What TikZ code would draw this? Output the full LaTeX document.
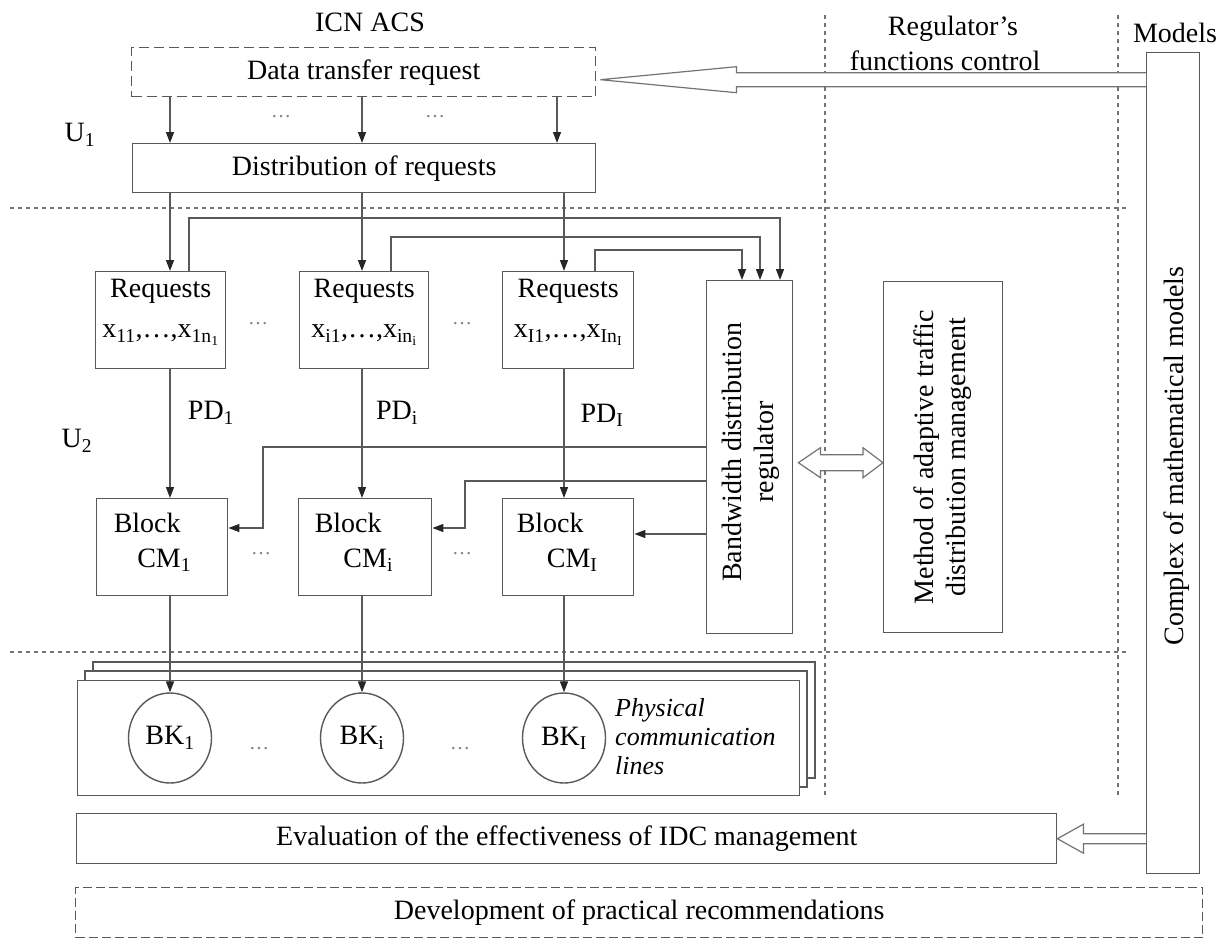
\documentclass[tikz,border=0pt]{standalone}
\usepackage{fontspec}
\setmainfont{Liberation Serif}
\usetikzlibrary{arrows.meta,calc,shapes.geometric}
\begin{document}
\begin{tikzpicture}[x=1pt,y=-1pt,
  ln/.style={draw=black!65,line width=1.4pt},
  box/.style={ln,rectangle,inner sep=0pt,anchor=north west,fill=white},
  sep/.style={draw=black!55,line width=1.4pt,dash pattern=on 4pt off 4pt},
  arr/.style={ln,-{Triangle[length=11pt,width=8pt,color=black!85]}},
  txt/.style={font=\fontsize{28}{32}\selectfont,inner sep=0pt},
  itxt/.style={font=\itshape\fontsize{26}{29}\selectfont,inner sep=0pt},
  dotsn/.style={font=\fontsize{20}{20}\selectfont,text=black!50,inner sep=0pt},
  hollow/.style={draw=black!55,line width=1.2pt,fill=white,line join=miter},
]
\useasboundingbox (0,0) rectangle (1230,942);

% separators
\draw[sep] (10,208) -- (1126,208);
\draw[sep] (10,652) -- (1126,652);
\draw[sep] (825,15) -- (825,795);
\draw[sep] (1118,15) -- (1118,795);

% columns
\coordinate (k1) at (170,0);
\coordinate (k2) at (362,0);
\coordinate (k3) at (564,0);
\coordinate (k0) at (557,0);

% top labels
\node[txt] (icn) at (370,22) {ICN ACS};
\node[txt] (mod) at (1175,33) {Models};

% top boxes
\node[box,txt,dash pattern=on 10pt off 5pt,minimum width=464,minimum height=49] (dtr) at (131,47) {Data transfer request};
\node[box,txt,minimum width=463,minimum height=49] (dist) at (132,143) {Distribution of requests};

% models box
\node[box,minimum width=53,minimum height=821] (models) at (1146,52) {};
\node[txt,rotate=90] (modt) at ($(models.center)+(3,-7)$) {Complex of mathematical models};

% big hollow arrow to data transfer request
\coordinate (ta) at ($(dtr.east)+(4,7.5)$);
\coordinate (tb) at (models.west |- ta);
\draw[hollow] ($(tb)+(0,-7)$) -- ($(ta)+(136,-7)$) -- ++(0,-6) -- (ta) -- ($(ta)+(136,13)$) -- ++(0,-6) -- ($(tb)+(0,7)$);

\node[txt] (reg1) at (953,29) {Regulator's};
\node[txt] (reg2) at (945,61) {functions control};

% arrows DTR -> distribution
\draw[arr] (k1 |- dtr.south) -- (k1 |- dist.north);
\draw[arr] (k2 |- dtr.south) -- (k2 |- dist.north);
\draw[arr] (k0 |- dtr.south) -- (k0 |- dist.north);
\node[dotsn] at (281,117) {…};
\node[dotsn] at (435,117) {…};

\node[txt] (u1) at (80,135) {U\textsubscript{1}};
\node[txt] (u2) at (77,441) {U\textsubscript{2}};

% requests boxes
\node[box,minimum width=130,minimum height=97] (r1) at (95,271) {};
\node[box,minimum width=129,minimum height=97] (r2) at (299,271) {};
\node[box,minimum width=131,minimum height=97] (r3) at (502,271) {};
\node[txt] at ($(r1.north)+(0,20)$) {Requests};
\node[txt] at ($(r2.north)+(0,20)$) {Requests};
\node[txt] at ($(r3.north)+(0,20)$) {Requests};
\node[txt] at ($(r1.north)+(0,64)$) {x\textsubscript{11},…,x\textsubscript{1n\textsubscript{1}}};
\node[txt] at ($(r2.north)+(0,64)$) {x\textsubscript{i1},…,x\textsubscript{in\textsubscript{i}}};
\node[txt] at ($(r3.north)+(0,64)$) {x\textsubscript{I1},…,x\textsubscript{In\textsubscript{I}}};
\node[dotsn] at (258,324) {…};
\node[dotsn] at (462,324) {…};

\draw[arr] (k1 |- dist.south) -- (k1 |- r1.north);
\draw[arr] (k2 |- dist.south) -- (k2 |- r2.north);
\draw[arr] (k3 |- dist.south) -- (k3 |- r3.north);

% regulator and method boxes
\node[box,minimum width=86,minimum height=353] (reg) at (706,280) {};
\node[txt,rotate=90,align=center] at ($(reg.center)+(1,-5)$) {Bandwidth distribution\\regulator};
\node[box,minimum width=119,minimum height=351] (meth) at (883,281) {};
\node[txt,rotate=90,align=center] at ($(meth.center)+(-1,0)$) {Method of adaptive traffic\\distribution management};

% feedback lines requests -> regulator
\coordinate (f1) at (189,0);
\coordinate (f2) at (391,0);
\coordinate (f3) at (595,0);
\coordinate (g1) at (780,218);
\coordinate (g2) at (760,237);
\coordinate (g3) at (742,250);
\draw[arr] (f1 |- r1.north) |- (g1) -- (g1 |- reg.north);
\draw[arr] (f2 |- r2.north) |- (g2) -- (g2 |- reg.north);
\draw[arr] (f3 |- r3.north) |- (g3) -- (g3 |- reg.north);

% blocks
\node[box,minimum width=131,minimum height=97] (b1) at (96,498) {};
\node[box,minimum width=133,minimum height=97] (b2) at (298,498) {};
\node[box,minimum width=131,minimum height=97] (b3) at (502,498) {};
\node[txt] at ($(b1.north)+(-15,25)$) {Block};
\node[txt] at ($(b2.north)+(-17,25)$) {Block};
\node[txt] at ($(b3.north)+(-18,25)$) {Block};
\node[txt] at ($(b1.north)+(2,62)$) {CM\textsubscript{1}};
\node[txt] at ($(b2.north)+(3,62)$) {CM\textsubscript{i}};
\node[txt] at ($(b3.north)+(4,62)$) {CM\textsubscript{I}};
\node[dotsn] at (261,554) {…};
\node[dotsn] at (462,554) {…};

% requests -> blocks
\draw[arr] (k1 |- r1.south) -- (k1 |- b1.north);
\draw[arr] (k2 |- r2.south) -- (k2 |- b2.north);
\draw[arr] (k3 |- r3.south) -- (k3 |- b3.north);
\node[txt] at (211,413) {PD\textsubscript{1}};
\node[txt] at (397,413) {PD\textsubscript{i}};
\node[txt] at (602,415) {PD\textsubscript{I}};

% regulator -> blocks
\coordinate (h1) at (263,447);
\coordinate (h2) at (465,481);
\coordinate (v1) at (0,528);
\coordinate (v3) at (0,534);
\draw[arr] (reg.west |- h1) -- (h1) |- (b1.east |- v1);
\draw[arr] (reg.west |- h2) -- (h2) |- (b2.east |- v1);
\draw[arr] (reg.west |- v3) -- (b3.east |- v3);

% double hollow arrow regulator <-> method
\coordinate (da) at ($(reg.east)+(5,5.5)$);
\coordinate (db) at (meth.west |- da);
\draw[hollow] (da) -- ++(22,-15) -- ++(0,7) -- ($(db)+(-20,-8)$) -- ++(0,-7) -- (db) -- ++(-20,15) -- ++(0,-7) -- ($(da)+(22,8)$) -- ++(0,7) -- cycle;

% physical lines stack
\draw[ln,fill=white] (93,662) rectangle (815,778);
\draw[ln,fill=white] (85,671) rectangle (807,787);
\node[box,minimum width=722,minimum height=115] (phys) at (77,680) {};
\node[ellipse,ln,fill=white,inner sep=0pt,minimum width=83,minimum height=90,txt] (e1) at (170,738) {BK\textsubscript{1}};
\node[ellipse,ln,fill=white,inner sep=0pt,minimum width=83,minimum height=90,txt] (e2) at (362,738) {BK\textsubscript{i}};
\node[ellipse,ln,fill=white,inner sep=0pt,minimum width=83,minimum height=90,txt] (e3) at (564,738) {BK\textsubscript{I}};
\node[dotsn] at (259,749) {…};
\node[dotsn] at (460,749) {…};
\node[itxt,align=left,anchor=west] (physt) at (615,737) {Physical\\communication\\lines};

\draw[arr] (k1 |- b1.south) -- (e1.north);
\draw[arr] (k2 |- b2.south) -- (e2.north);
\draw[arr] (k3 |- b3.south) -- (e3.north);

% evaluation and development
\node[box,txt,minimum width=980,minimum height=50] (eval) at (76,813) {Evaluation of the effectiveness of IDC management};
\node[box,txt,dash pattern=on 9pt off 4pt,minimum width=1127,minimum height=50] (dev) at (75,887) {Development of practical recommendations};

\coordinate (ba) at (eval.east);
\coordinate (bb) at (models.west |- ba);
\draw[hollow] ($(bb)+(0,-5)$) -- ($(ba)+(26,-5)$) -- ++(0,-9.5) -- (ba) -- ($(ba)+(26,14.5)$) -- ++(0,-9.5) -- ($(bb)+(0,5)$);
\end{tikzpicture}
\end{document}
